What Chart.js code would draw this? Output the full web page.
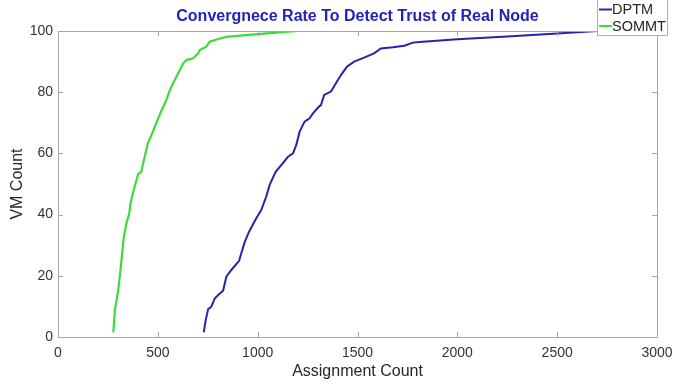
<!DOCTYPE html>
<html>
<head>
<meta charset="utf-8">
<script src="https://cdn.jsdelivr.net/npm/chart.js@4/dist/chart.umd.min.js"></script>
<style>
  html, body { margin: 0; padding: 0; background: #ffffff; }
  #wrap { width: 674px; height: 385px; }
</style>
</head>
<body>
<div id="wrap"><canvas id="c" width="674" height="385"></canvas></div>
<script>
const chartTitle = "Convergnece Rate To Detect Trust of Real Node";
const xAxisLabel = "Assignment Count";
const yAxisLabel = "VM Count";
const seriesNames = ["DPTM", "SOMMT"];

const dptmX = [730, 740, 752, 768, 785, 802, 827, 843, 868, 907, 918, 935, 957, 993, 1018, 1043, 1060, 1090, 1118, 1152, 1177, 1193, 1210, 1235, 1260, 1277, 1307, 1317, 1333, 1367, 1392, 1417, 1447, 1483, 1533, 1583, 1617, 1677, 1735, 1777, 1810, 2000, 2250, 2500, 2700];
const dptmY = [1.5, 5.6, 9.1, 9.9, 12.6, 13.7, 15.1, 19.7, 21.9, 24.9, 27.4, 31, 34.4, 38.8, 41.5, 45.9, 49.7, 54, 56.2, 58.9, 60, 62.7, 67.1, 70.4, 71.5, 73.1, 75.3, 75.8, 79.1, 80.2, 82.9, 85.6, 88.3, 90, 91.3, 92.7, 94.3, 94.7, 95.2, 96.2, 96.4, 97.3, 98.2, 99.2, 100];

const sommtX = [277, 285, 302, 313, 323, 330, 343, 357, 363, 377, 393, 402, 417, 430, 450, 475, 502, 523, 543, 560, 580, 602, 627, 643, 677, 702, 710, 743, 760, 802, 843, 1000, 1200];
const sommtY = [1.5, 8.8, 15.4, 21.9, 28.4, 32.8, 37.2, 40.4, 43.7, 47.5, 51.3, 53.3, 54, 57.8, 63.3, 67.1, 71.5, 74.7, 77.5, 80.7, 83.4, 86.2, 89.4, 90.5, 91.1, 92.7, 93.8, 94.9, 96.5, 97.4, 98.1, 99, 100];

const xTicks = [0, 500, 1000, 1500, 2000, 2500, 3000];
const yTicks = [0, 20, 40, 60, 80, 100];

const colors = ["#2424ae", "#3cdc3c"];
const FONT = "'Liberation Sans', Arial, sans-serif";

const toPts = (xs, ys) => xs.map((x, i) => ({ x: x, y: ys[i] }));

const boxPlugin = {
  id: 'boxPlugin',
  afterDatasetsDraw(chart) {
    const { ctx, chartArea: a, scales } = chart;
    ctx.save();
    ctx.strokeStyle = '#a6a6a6';
    ctx.lineWidth = 1;
    ctx.beginPath();
    ctx.rect(Math.round(a.left) + 0.5, Math.round(a.top) + 0.5, Math.round(a.right - a.left), Math.round(a.bottom - a.top));
    ctx.stroke();
    const tl = 5;
    ctx.beginPath();
    xTicks.forEach(v => {
      const px = Math.round(scales.x.getPixelForValue(v)) + 0.5;
      ctx.moveTo(px, a.bottom); ctx.lineTo(px, a.bottom - tl);
      ctx.moveTo(px, a.top); ctx.lineTo(px, a.top + tl);
    });
    yTicks.forEach(v => {
      const py = Math.round(scales.y.getPixelForValue(v)) + 0.5;
      ctx.moveTo(a.left, py); ctx.lineTo(a.left + tl, py);
      ctx.moveTo(a.right, py); ctx.lineTo(a.right - tl, py);
    });
    ctx.stroke();

    // title
    ctx.fillStyle = '#2323b8';
    ctx.font = "bold 16px " + FONT;
    ctx.textAlign = 'center';
    ctx.textBaseline = 'middle';
    ctx.fillText(chartTitle, (a.left + a.right) / 2, 17);

    // legend
    const lx = 597, ly = -1, lw = 70, lh = 36;
    ctx.fillStyle = '#ffffff';
    ctx.fillRect(lx, ly, lw, lh);
    ctx.strokeStyle = '#b0b0b0';
    ctx.lineWidth = 1;
    ctx.strokeRect(lx + 0.5, ly + 0.5, lw, lh);
    ctx.font = "14.5px " + FONT;
    ctx.textAlign = 'left';
    chart.data.datasets.forEach((ds, i) => {
      const yy = 9.5 + i * 16.5;
      ctx.strokeStyle = ds.borderColor;
      ctx.lineWidth = 2;
      ctx.beginPath();
      ctx.moveTo(599, yy); ctx.lineTo(612, yy);
      ctx.stroke();
      ctx.fillStyle = '#262626';
      ctx.fillText(ds.label, 612, yy + 0.5);
    });
    ctx.restore();
  }
};

new Chart(document.getElementById('c'), {
  type: 'line',
  data: {
    datasets: [
      { label: seriesNames[0], data: toPts(dptmX, dptmY), borderColor: colors[0], backgroundColor: colors[0], borderWidth: 2, pointRadius: 0, tension: 0, fill: false },
      { label: seriesNames[1], data: toPts(sommtX, sommtY), borderColor: colors[1], backgroundColor: colors[1], borderWidth: 2.2, pointRadius: 0, tension: 0, fill: false }
    ]
  },
  options: {
    responsive: false,
    animation: false,
    devicePixelRatio: 1,
    layout: { padding: { left: 0, right: 17, top: 31, bottom: 0 } },
    plugins: { legend: { display: false }, title: { display: false }, tooltip: { enabled: false } },
    scales: {
      x: {
        type: 'linear', min: 0, max: 3000,
        afterBuildTicks: s => { s.ticks = xTicks.map(v => ({ value: v })); },
        afterFit: s => { s.height = 48; s.paddingLeft = 0; s.paddingRight = 0; },
        grid: { display: false, drawTicks: false },
        border: { display: false },
        ticks: { color: '#333333', font: { size: 14, family: FONT }, padding: 8, maxRotation: 0, callback: v => String(v) },
        title: { display: true, text: xAxisLabel, color: '#262626', font: { size: 16, family: FONT }, padding: { top: 0, bottom: 3.4 } }
      },
      y: {
        type: 'linear', min: 0, max: 100,
        afterBuildTicks: s => { s.ticks = yTicks.map(v => ({ value: v })); },
        afterFit: s => { s.width = 58; s.paddingTop = 0; s.paddingBottom = 0; },
        grid: { display: false, drawTicks: false },
        border: { display: false },
        ticks: { color: '#333333', font: { size: 14, family: FONT }, padding: 5, callback: v => String(v) },
        title: { display: true, text: yAxisLabel, color: '#262626', font: { size: 16, family: FONT }, padding: { top: 7.9, bottom: 0 } }
      }
    }
  },
  plugins: [boxPlugin]
});
</script>
</body>
</html>
